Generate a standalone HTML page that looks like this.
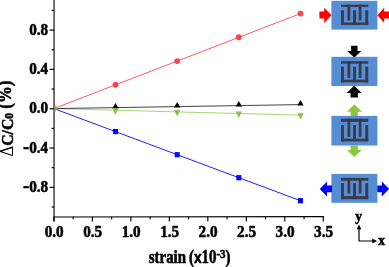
<!DOCTYPE html>
<html><head><meta charset="utf-8"><title>strain chart</title>
<style>
html,body{margin:0;padding:0;background:#fff;}
svg{display:block}
.t{font-family:"Liberation Serif",serif;font-weight:bold;fill:#000;stroke:#000;stroke-width:0.5px;stroke-linejoin:round}
</style></head><body>
<svg width="389" height="267" viewBox="0 0 389 267">
<rect width="389" height="267" fill="#fff"/>
<line x1="54.05" y1="0" x2="54.05" y2="221.5" stroke="#000" stroke-width="1.12"/>
<line x1="53.5" y1="217.0" x2="323.9" y2="216.6" stroke="#000" stroke-width="1.2"/>
<line x1="51.6" y1="207.00" x2="54" y2="207.00" stroke="#000" stroke-width="1.2"/>
<line x1="49.6" y1="187.34" x2="54" y2="187.34" stroke="#000" stroke-width="1.2"/>
<text transform="translate(48.2,192.0) scale(1,1.13)" text-anchor="end" font-size="15.2" class="t"><tspan font-size="18.5">-</tspan>0.8</text>
<line x1="51.6" y1="167.68" x2="54" y2="167.68" stroke="#000" stroke-width="1.2"/>
<line x1="49.6" y1="148.02" x2="54" y2="148.02" stroke="#000" stroke-width="1.2"/>
<text transform="translate(48.2,152.7) scale(1,1.13)" text-anchor="end" font-size="15.2" class="t"><tspan font-size="18.5">-</tspan>0.4</text>
<line x1="51.6" y1="128.36" x2="54" y2="128.36" stroke="#000" stroke-width="1.2"/>
<line x1="49.6" y1="108.70" x2="54" y2="108.70" stroke="#000" stroke-width="1.2"/>
<text transform="translate(48.2,113.4) scale(1,1.13)" text-anchor="end" font-size="15.2" class="t">0.0</text>
<line x1="51.6" y1="89.04" x2="54" y2="89.04" stroke="#000" stroke-width="1.2"/>
<line x1="49.6" y1="69.38" x2="54" y2="69.38" stroke="#000" stroke-width="1.2"/>
<text transform="translate(48.2,74.1) scale(1,1.13)" text-anchor="end" font-size="15.2" class="t">0.4</text>
<line x1="51.6" y1="49.72" x2="54" y2="49.72" stroke="#000" stroke-width="1.2"/>
<line x1="49.6" y1="30.06" x2="54" y2="30.06" stroke="#000" stroke-width="1.2"/>
<text transform="translate(48.2,34.8) scale(1,1.13)" text-anchor="end" font-size="15.2" class="t">0.8</text>
<line x1="51.6" y1="10.40" x2="54" y2="10.40" stroke="#000" stroke-width="1.2"/>
<line x1="53.90" y1="216.8" x2="53.90" y2="221.6" stroke="#000" stroke-width="1.15"/>
<text transform="translate(54.2,237.3) scale(1,1.13)" text-anchor="middle" font-size="15.2" class="t">0.0</text>
<line x1="73.14" y1="216.8" x2="73.14" y2="219.3" stroke="#000" stroke-width="1.15"/>
<line x1="92.38" y1="216.8" x2="92.38" y2="221.6" stroke="#000" stroke-width="1.15"/>
<text transform="translate(92.7,237.3) scale(1,1.13)" text-anchor="middle" font-size="15.2" class="t">0.5</text>
<line x1="111.63" y1="216.8" x2="111.63" y2="219.3" stroke="#000" stroke-width="1.15"/>
<line x1="130.87" y1="216.8" x2="130.87" y2="221.6" stroke="#000" stroke-width="1.15"/>
<text transform="translate(131.2,237.3) scale(1,1.13)" text-anchor="middle" font-size="15.2" class="t">1.0</text>
<line x1="150.11" y1="216.8" x2="150.11" y2="219.3" stroke="#000" stroke-width="1.15"/>
<line x1="169.35" y1="216.8" x2="169.35" y2="221.6" stroke="#000" stroke-width="1.15"/>
<text transform="translate(169.7,237.3) scale(1,1.13)" text-anchor="middle" font-size="15.2" class="t">1.5</text>
<line x1="188.60" y1="216.8" x2="188.60" y2="219.3" stroke="#000" stroke-width="1.15"/>
<line x1="207.84" y1="216.8" x2="207.84" y2="221.6" stroke="#000" stroke-width="1.15"/>
<text transform="translate(208.1,237.3) scale(1,1.13)" text-anchor="middle" font-size="15.2" class="t">2.0</text>
<line x1="227.08" y1="216.8" x2="227.08" y2="219.3" stroke="#000" stroke-width="1.15"/>
<line x1="246.33" y1="216.8" x2="246.33" y2="221.6" stroke="#000" stroke-width="1.15"/>
<text transform="translate(246.6,237.3) scale(1,1.13)" text-anchor="middle" font-size="15.2" class="t">2.5</text>
<line x1="265.57" y1="216.8" x2="265.57" y2="219.3" stroke="#000" stroke-width="1.15"/>
<line x1="284.81" y1="216.8" x2="284.81" y2="221.6" stroke="#000" stroke-width="1.15"/>
<text transform="translate(285.1,237.3) scale(1,1.13)" text-anchor="middle" font-size="15.2" class="t">3.0</text>
<line x1="304.05" y1="216.8" x2="304.05" y2="219.3" stroke="#000" stroke-width="1.15"/>
<line x1="323.29" y1="216.8" x2="323.29" y2="221.6" stroke="#000" stroke-width="1.15"/>
<text transform="translate(323.6,237.3) scale(1,1.13)" text-anchor="middle" font-size="15.2" class="t">3.5</text>
<polyline points="53.9,108.6 115.5,84.8 177.2,61.1 238.8,37.3 300.5,13.6" fill="none" stroke="#ff5a64" stroke-width="1"/>
<circle cx="115.5" cy="84.8" r="2.95" fill="#fb4450"/>
<circle cx="177.2" cy="61.1" r="2.95" fill="#fb4450"/>
<circle cx="238.8" cy="37.3" r="2.95" fill="#fb4450"/>
<circle cx="300.5" cy="13.6" r="2.95" fill="#fb4450"/>
<polyline points="53.9,108.6 115.5,131.6 177.2,154.7 238.8,177.7 300.5,200.7" fill="none" stroke="#2020ff" stroke-width="1"/>
<rect x="113.0" y="129.0" width="5" height="5.2" fill="#0000ff"/>
<rect x="174.7" y="152.1" width="5" height="5.2" fill="#0000ff"/>
<rect x="236.3" y="175.1" width="5" height="5.2" fill="#0000ff"/>
<rect x="298.0" y="198.1" width="5" height="5.2" fill="#0000ff"/>
<polyline points="53.9,108.6 115.5,110.2 177.2,111.9 238.8,113.5 300.5,115.2" fill="none" stroke="#96d05a" stroke-width="0.85"/>
<polyline points="53.9,108.6 115.5,107.6 177.2,106.6 238.8,105.6 300.5,104.6" fill="none" stroke="#222" stroke-width="0.85"/>
<polygon points="115.5,103.1 112.3,108.6 118.8,108.6" fill="#000"/>
<polygon points="177.2,102.1 174.0,107.6 180.4,107.6" fill="#000"/>
<polygon points="238.8,101.1 235.7,106.6 242.0,106.6" fill="#000"/>
<polygon points="300.5,100.1 297.3,105.6 303.7,105.6" fill="#000"/>
<polygon points="54.6,112.6 54.6,105.2 56.4,106.2 57.6,108.4" fill="#86c440"/>
<polygon points="115.5,114.7 112.3,108.2 118.8,108.2" fill="#86c440"/>
<polygon points="177.2,116.3 174.0,109.9 180.4,109.9" fill="#86c440"/>
<polygon points="238.8,118.0 235.7,111.5 242.0,111.5" fill="#86c440"/>
<polygon points="300.5,119.6 297.3,113.2 303.7,113.2" fill="#86c440"/>
<rect x="331.4" y="0.8" width="46" height="28.8" fill="#558ed5"/>
<rect x="341.0" y="4.7" width="27.2" height="2.2" fill="#3a3a48"/><rect x="347.5" y="4.7" width="2.8" height="15.8" fill="#3a3a48"/><rect x="358.7" y="4.7" width="2.8" height="15.8" fill="#3a3a48"/><rect x="341.0" y="10.3" width="2.9" height="14.6" fill="#3a3a48"/><rect x="353.1" y="10.3" width="2.9" height="14.6" fill="#3a3a48"/><rect x="365.3" y="10.3" width="2.9" height="14.6" fill="#3a3a48"/><rect x="341.0" y="22.5" width="27.2" height="2.4" fill="#3a3a48"/>
<rect x="331.4" y="56.8" width="46" height="29.2" fill="#558ed5"/>
<rect x="341.0" y="61.2" width="27.2" height="2.5" fill="#3a3a48"/><rect x="347.5" y="61.2" width="2.8" height="16.7" fill="#3a3a48"/><rect x="358.7" y="61.2" width="2.8" height="16.7" fill="#3a3a48"/><rect x="341.0" y="66.7" width="2.9" height="15.7" fill="#3a3a48"/><rect x="353.1" y="66.7" width="2.9" height="15.7" fill="#3a3a48"/><rect x="365.3" y="66.7" width="2.9" height="15.7" fill="#3a3a48"/><rect x="341.0" y="79.7" width="27.2" height="2.7" fill="#3a3a48"/>
<rect x="331.4" y="115.9" width="46" height="29.6" fill="#558ed5"/>
<rect x="341.0" y="118.7" width="27.2" height="3.2" fill="#3a3a48"/><rect x="347.5" y="118.7" width="2.8" height="18.2" fill="#3a3a48"/><rect x="358.7" y="118.7" width="2.8" height="18.2" fill="#3a3a48"/><rect x="341.0" y="125.1" width="2.9" height="16.3" fill="#3a3a48"/><rect x="353.1" y="125.1" width="2.9" height="16.3" fill="#3a3a48"/><rect x="365.3" y="125.1" width="2.9" height="16.3" fill="#3a3a48"/><rect x="341.0" y="138.7" width="27.2" height="2.7" fill="#3a3a48"/>
<rect x="331.4" y="173.9" width="46" height="28.9" fill="#558ed5"/>
<rect x="341.0" y="177.9" width="27.2" height="2.8" fill="#3a3a48"/><rect x="347.5" y="177.9" width="2.8" height="15.7" fill="#3a3a48"/><rect x="358.7" y="177.9" width="2.8" height="15.7" fill="#3a3a48"/><rect x="341.0" y="183.1" width="2.9" height="16.1" fill="#3a3a48"/><rect x="353.1" y="183.1" width="2.9" height="16.1" fill="#3a3a48"/><rect x="365.3" y="183.1" width="2.9" height="16.1" fill="#3a3a48"/><rect x="341.0" y="196.1" width="27.2" height="3.1" fill="#3a3a48"/>
<polygon points="319.4,11.6 324.2,11.6 324.2,7.7 331.5,15.2 324.2,22.9 324.2,18.5 319.4,18.5" fill="#ff0000"/>
<polygon points="390.0,11.6 384.2,11.6 384.2,7.8 377.3,15.2 384.2,22.8 384.2,18.6 390.0,18.6" fill="#ff0000"/>
<polygon points="351.1,45.8 357.5,45.8 357.5,50.9 361.4,50.9 354.3,57.4 347.0,50.9 351.1,50.9" fill="#000"/>
<polygon points="350.6,97.6 357.9,97.6 357.9,93.1 361.8,93.1 354.2,85.7 346.7,93.1 350.6,93.1" fill="#000"/>
<polygon points="350.6,116.0 357.9,116.0 357.9,111.7 361.8,111.7 354.3,104.3 347.0,111.7 350.6,111.7" fill="#8cc63f"/>
<polygon points="350.6,145.4 357.9,145.4 357.9,150.0 361.8,150.0 354.3,156.9 347.0,150.0 350.6,150.0" fill="#8cc63f"/>
<polygon points="332.0,185.5 327.0,185.5 327.0,181.6 319.8,188.9 327.0,196.6 327.0,192.3 332.0,192.3" fill="#0000ff"/>
<polygon points="377.3,185.5 381.8,185.5 381.8,181.6 389.2,188.9 381.8,196.6 381.8,192.3 377.3,192.3" fill="#0000ff"/>
<path d="M359 227 V241 H374" fill="none" stroke="#000" stroke-width="1.2"/>
<polygon points="359.0,224.5 356.6,229.2 361.4,229.2" fill="#000"/>
<polygon points="377.0,241.0 372.3,238.5 372.3,243.5" fill="#000"/>
<text transform="translate(358.7,221.3) scale(1,1.03)" text-anchor="middle" font-size="13.5" class="t">y</text>
<text transform="translate(381.6,244.7) scale(1,1.03)" text-anchor="middle" font-size="13.5" class="t">x</text>
<text transform="translate(189.7,263) scale(1,1.2)" text-anchor="middle" font-size="14.9" class="t">strain<tspan dx="-0.8"> (</tspan><tspan font-family="Liberation Sans" font-size="13.8">x</tspan>10<tspan dy="-4.2" font-size="11">-3</tspan><tspan dy="4.2">)</tspan></text>
<text transform="translate(12.7,118.6) rotate(-90) scale(1,1.1)" text-anchor="middle" font-size="15.8" class="t"><tspan font-weight="normal" stroke="none" font-size="16.6">Δ</tspan>C/C<tspan dy="0.1" font-size="11.5">0</tspan><tspan dy="-1.2" font-size="16.8"> (%)</tspan></text>
</svg>
</body></html>
